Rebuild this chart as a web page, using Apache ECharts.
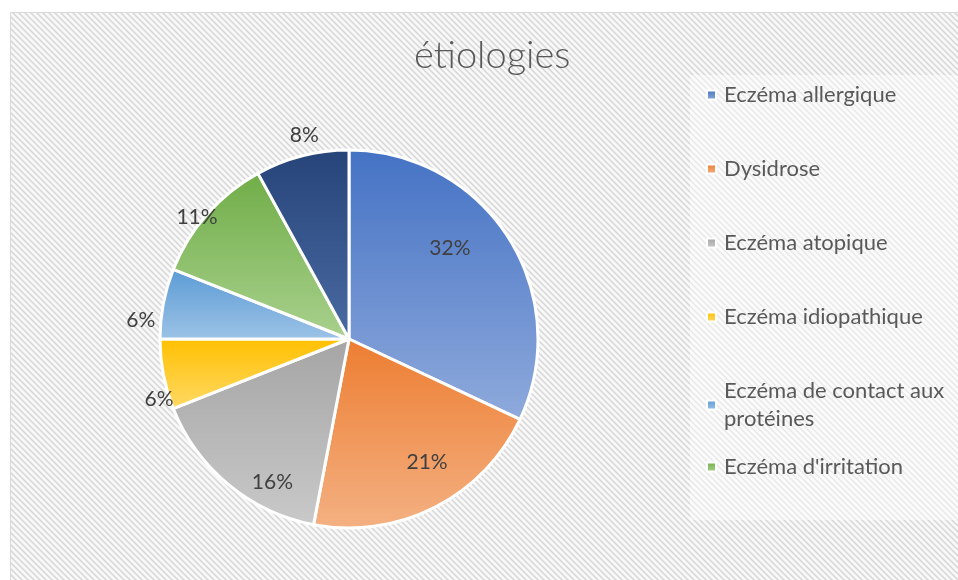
<!DOCTYPE html>
<html>
<head>
<meta charset="utf-8">
<script src="https://cdn.jsdelivr.net/npm/echarts@6/dist/echarts.min.js"></script>
<style>
  html, body { margin: 0; padding: 0; background: #fff; }
  #chart { width: 958px; height: 580px; }
</style>
</head>
<body>
<div id="chart"></div>
<script>
// données (pourcentages)
const categories = ['Eczéma allergique', 'Dysidrose', 'Eczéma atopique', 'Eczéma idiopathique',
  'Eczéma de contact aux protéines', "Eczéma d'irritation", 'Autres']
const values = [32, 21, 16, 6, 6, 11, 8]
// la légende d'origine est tronquée : la dernière part n'y figure pas
const legendNames = categories.slice(0, 6)

// couleurs : haut (foncé) -> bas (clair), comme le dégradé Excel
const topColors = ['#4472C4', '#ED7D31', '#A5A5A5', '#FFC000', '#5B9BD5', '#70AD47', '#264478']
const bottomColors = ['#8FAADC', '#F4B183', '#C9C9C9', '#FFD966', '#9DC3E6', '#A9D18E', '#4A6AA3']
// distance des étiquettes au centre, en fraction du rayon, puis petit décalage [dx, dy]
const labelRadius = [0.72, 0.77, 0.86, 1.05, 1.10, 1.03, 1.10]
const labelNudge = [[-14, -18], [12, -6], [27, 18], [5, 23], [-4, 20], [-6, 7], [7, -2]]

const CX = 349
const CY = 339
const R = 189

// motif hachuré du fond
function hatch () {
  const c = document.createElement('canvas')
  c.width = 6
  c.height = 6
  const ctx = c.getContext('2d')
  for (let x = 0; x < 6; x++) {
    for (let y = 0; y < 6; y++) {
      const d = ((x - y) % 6 + 6) % 6
      ctx.fillStyle = d === 0 ? '#d6d6d6' : (d === 1 || d === 5) ? '#e6e6e6' : '#f8f8f8'
      ctx.fillRect(x, y, 1, 1)
    }
  }
  return c
}

const pieData = categories.map((name, i) => ({
  name: name,
  value: values[i],
  itemStyle: {
    color: {
      type: 'linear', x: 0, y: 0, x2: 0, y2: 1,
      colorStops: [{ offset: 0, color: topColors[i] }, { offset: 1, color: bottomColors[i] }]
    }
  }
}))

const myEchart = echarts.init(document.getElementById('chart'), null, { renderer: 'canvas' })
const font = 'Lato, "Open Sans", sans-serif'

const legendBase = {
  orient: 'vertical',
  left: 706,
  padding: 0,
  itemWidth: 9,
  itemHeight: 9,
  icon: 'rect',
  itemGap: 46,
  selectedMode: false,
  textStyle: {
    color: '#595959',
    fontSize: 22,
    lineHeight: 28,
    fontFamily: font,
    padding: [0, 0, 0, 3]
  },
  formatter: function (name) {
    return name === 'Eczéma de contact aux protéines' ? 'Eczéma de contact aux\nprotéines' : name
  }
}

const option = {
  backgroundColor: '#fff',
  animation: false,
  title: {
    text: 'étiologies',
    left: 409,
    top: 32,
    textStyle: {
      fontSize: 38,
      fontWeight: 300,
      color: '#595959',
      fontFamily: font
    }
  },
  graphic: [
    {
      type: 'rect',
      z: -10,
      shape: { x: 10.5, y: 12.5, width: 960, height: 580 },
      style: { fill: { image: hatch(), repeat: 'repeat' }, stroke: '#d9d9d9', lineWidth: 1 }
    },
    {
      type: 'rect',
      z: -9,
      shape: { x: 690, y: 75, width: 268, height: 445 },
      style: { fill: 'rgba(255,255,255,0.45)' }
    }
  ],
  legend: [
    Object.assign({}, legendBase, { top: 81, data: legendNames.slice(0, 5) }),
    Object.assign({}, legendBase, { top: 453, data: legendNames.slice(5) })
  ],
  series: [
    {
      name: 'étiologies',
      type: 'pie',
      center: [CX, CY],
      radius: [0, R],
      startAngle: 90,
      clockwise: true,
      itemStyle: { borderColor: '#fff', borderWidth: 3 },
      label: {
        show: true,
        position: 'inside',
        formatter: '{d}%',
        color: '#404040',
        fontSize: 21,
        fontFamily: font
      },
      labelLine: { show: false },
      // place chaque étiquette sur son rayon, à la distance
      labelLayout: function (params) {
        const lr = params.labelRect
        const mx = lr.x + lr.width / 2 - CX
        const my = lr.y + lr.height / 2 - CY
        const d = Math.sqrt(mx * mx + my * my) || 1
        const k = labelRadius[params.dataIndex]
        const n = labelNudge[params.dataIndex]
        return {
          x: CX + mx / d * k * R + n[0],
          y: CY + my / d * k * R + n[1],
          align: 'center',
          verticalAlign: 'middle'
        }
      },
      data: pieData
    }
  ]
}
myEchart.setOption(option)
</script>
</body>
</html>
